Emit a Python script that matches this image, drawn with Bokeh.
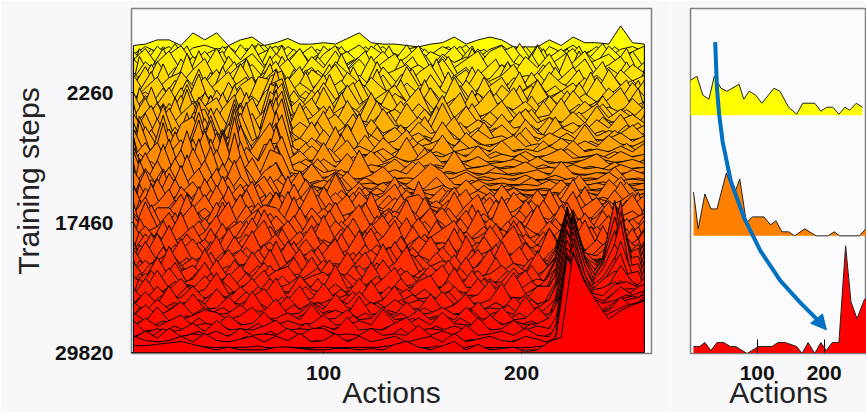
from bokeh.plotting import figure
from bokeh.layouts import row
from bokeh.models import FixedTicker
from bokeh.embed import file_html
from bokeh.resources import INLINE

actions = list(range(4, 266, 6))
actions_between = [4] + list(range(7, 262, 6)) + [262]
tick_layers = [50, 25, 0]
tick_labels = ["2260", "17460", "29820"]
action_ticks = [100, 200]

# ridge heights, from the top (oldest) layer to the bottom (newest) layer
layers = [
[15,16,19,19,15,24,19,24,15,19,21,15,17,20,16,16,17,16,20,24,17,16,16,15,14,16,17,21,16,19,21,19,14,14,14,19,15,21,17,17,16,29,17,16],
[12,18,14,18,10,17,19,16,18,12,18,19,10,18,12,18,8,18,14,19,12,18,10,16,18,12,18,14,19,10,16,19,12,18,8,18,14,19,12,18,10,16,18,14],
[18,10,22,14,22,12,16,20,10,23,14,18,22,12,20,8,22,14,18,10,22,16,12,23,10,18,14,22,12,20,10,18,22,10,23,14,20,12,18,10,22,14,18,22],
[16,24,12,20,26,14,22,12,26,16,27,12,18,14,24,10,20,26,12,18,14,22,12,18,26,10,20,14,18,12,22,26,14,10,26,12,18,24,12,16,20,12,22,10],
[20,12,18,26,12,22,14,28,12,18,24,14,24,16,10,22,14,26,12,20,10,18,24,12,16,10,22,14,20,26,12,16,10,22,14,24,10,18,26,12,16,22,10,18],
[10,22,14,8,24,12,18,10,26,14,20,10,16,24,12,18,8,22,14,10,26,12,16,20,10,14,24,12,18,8,10,20,10,12,12,22,8,16,24,10,18,12,20,14],
[18,8,26,14,10,20,28,12,16,24,10,18,26,12,8,20,14,24,10,16,8,22,12,8,18,24,10,14,20,8,12,16,24,10,18,8,14,22,10,16,8,20,12,16],
[12,26,10,18,22,8,14,24,10,28,14,8,22,16,26,10,18,8,22,14,10,20,8,26,12,16,8,20,10,24,14,8,18,12,8,22,14,10,18,8,24,12,16,8],
[24,10,16,8,26,16,10,18,26,12,8,20,28,10,18,12,24,8,16,10,22,14,8,18,10,24,12,8,20,10,16,22,8,14,20,8,12,18,8,22,10,14,8,20],
[10,18,26,12,8,16,26,14,10,20,26,8,18,26,12,8,22,10,16,24,8,14,20,8,12,18,8,26,10,14,8,20,12,8,24,10,16,8,14,8,18,10,22,12],
[14,19,12,8,22,10,18,8,26,12,16,8,30,14,8,20,12,8,24,10,16,8,18,12,8,22,8,14,10,18,8,12,22,8,10,16,8,20,10,8,14,22,8,12],
[8,20,14,26,10,16,8,24,12,26,8,14,39,10,18,8,26,10,14,8,20,12,8,16,26,8,12,18,8,14,24,8,10,16,8,20,10,8,16,8,12,8,18,10],
[26,8,18,10,24,8,26,12,8,18,10,26,33,8,14,22,8,12,18,8,26,10,14,8,18,10,24,8,16,8,12,20,8,14,8,10,22,8,12,18,8,14,8,16],
[12,26,8,22,12,8,20,26,10,16,26,8,36,16,8,12,20,8,24,10,8,16,8,22,10,8,14,8,20,8,16,8,10,18,8,12,8,16,8,20,8,10,14,8],
[8,14,26,8,18,26,10,14,8,26,12,20,29,8,26,8,12,18,8,14,8,22,10,8,16,8,26,10,8,14,8,18,8,10,6,16,8,12,6,14,8,18,6,10],
[22,8,14,26,10,16,8,26,12,28,8,14,39,8,16,10,24,8,14,6,18,8,12,6,16,8,10,20,6,12,8,14,6,18,8,6,12,8,16,6,10,8,14,6],
[10,26,8,14,6,26,29,10,8,18,26,8,26,14,8,20,6,12,8,26,6,10,16,8,12,6,20,8,6,14,8,10,6,16,6,12,8,6,18,6,8,12,6,10],
[16,8,26,8,20,10,26,8,14,30,10,16,41,8,12,6,18,8,22,6,14,8,10,18,6,8,12,6,16,8,6,10,14,6,8,6,12,6,10,6,14,8,6,10],
[8,24,10,6,26,31,12,8,26,14,8,22,33,12,6,16,8,24,6,10,6,16,8,6,12,6,18,6,8,10,6,14,6,8,6,10,6,14,6,8,6,10,6,12],
[26,8,16,26,8,14,26,25,8,28,12,8,39,10,6,14,6,10,18,6,8,12,6,20,6,8,6,10,6,14,5,8,6,10,5,8,12,5,6,8,5,10,6,8],
[10,20,6,12,22,6,28,12,24,10,6,21,34,8,14,6,20,6,8,6,14,6,10,6,8,14,5,8,6,10,5,6,8,5,10,5,6,5,8,12,5,6,8,5],
[6,14,24,6,10,26,8,31,6,36,14,8,36,6,10,5,12,6,16,5,8,6,12,5,6,8,5,18,5,6,8,5,6,10,5,6,5,8,5,6,4,8,5,6],
[24,6,10,30,6,16,36,10,23,14,6,26,27,6,5,12,6,8,5,22,6,5,8,5,14,5,6,5,8,4,6,5,4,6,8,4,14,5,4,6,5,4,8,5],
[8,24,6,12,26,6,10,26,8,32,10,6,29,8,5,16,5,10,6,5,8,14,5,6,5,8,4,6,10,5,4,6,4,8,4,5,4,6,4,5,10,4,5,4],
[29,6,22,6,10,31,14,6,24,12,24,8,21,5,12,5,8,5,14,5,6,4,8,5,12,20,14,5,4,8,4,6,4,5,4,8,4,5,4,6,4,5,4,6],
[6,20,8,21,6,12,26,8,16,29,6,18,24,6,4,8,5,18,4,8,5,10,4,6,4,5,8,4,12,4,5,4,6,4,5,4,12,4,5,4,6,14,4,5],
[23,8,14,6,26,6,10,24,6,18,8,6,16,10,22,6,10,4,6,14,4,6,18,4,8,5,4,6,4,8,4,5,10,4,5,4,6,4,8,4,16,8,4,6],
[8,26,6,24,10,18,6,12,21,6,14,22,8,14,6,16,6,24,8,5,10,6,4,12,4,6,14,4,6,5,4,16,5,4,8,4,6,20,4,6,4,18,6,4],
[18,6,24,8,14,6,24,8,10,20,6,12,6,26,6,10,6,14,6,18,6,12,20,6,10,4,8,18,5,8,14,5,6,4,16,5,8,4,12,6,5,8,14,6],
[6,21,10,6,22,12,6,23,8,14,26,6,18,8,14,6,22,8,6,18,10,6,14,6,26,8,6,12,20,6,8,4,18,8,6,12,5,8,22,6,12,5,8,16],
[26,8,14,24,6,10,20,6,26,8,12,6,22,6,10,26,6,12,20,6,12,8,6,18,20,10,6,22,6,10,18,6,8,14,6,24,8,6,12,18,6,10,20,6],
[10,22,6,12,24,8,14,6,10,24,6,16,8,26,8,6,14,6,10,6,26,6,12,8,6,14,8,6,16,24,6,12,6,20,8,6,14,26,8,6,16,8,12,6],
[14,6,18,18,8,12,6,22,8,6,14,20,18,8,6,18,8,22,6,12,6,14,8,24,6,10,18,6,8,12,6,26,10,6,14,6,20,8,6,12,22,6,10,14],
[6,26,8,6,14,24,8,14,26,6,10,6,16,6,22,6,10,6,14,24,8,6,16,6,12,22,6,10,20,6,14,6,16,8,24,6,10,6,18,6,10,6,14,6],
[20,8,12,22,6,8,18,6,10,16,6,24,8,12,6,20,6,16,8,6,12,20,6,8,18,6,12,6,8,24,6,10,6,12,6,16,8,24,6,10,20,6,8,16],
[8,16,6,10,26,6,12,24,6,8,22,6,10,20,8,6,24,6,12,6,18,6,10,22,6,8,14,20,6,8,14,6,20,6,10,6,14,6,8,16,6,12,6,10],
[22,6,14,6,12,20,6,8,16,6,14,24,6,8,16,6,10,6,20,8,6,12,24,6,12,6,8,6,16,6,20,8,6,14,6,18,6,10,24,6,8,14,6,18],
[6,18,8,24,6,8,14,6,22,8,6,10,18,6,12,24,6,14,6,10,22,6,8,6,16,10,6,22,6,12,6,14,24,6,10,6,8,20,6,14,6,10,22,6],
[12,6,22,6,10,18,6,16,6,10,24,6,8,14,6,8,16,6,10,24,6,8,14,6,8,20,6,8,14,6,10,6,8,16,6,26,10,22,8,6,14,22,12,24],
[5,20,6,8,22,6,10,24,6,14,6,18,6,20,8,6,12,22,6,8,14,6,20,6,10,6,16,6,24,8,6,12,6,19,8,6,12,32,10,6,10,28,18,14],
[18,6,10,16,6,12,6,8,18,6,10,6,24,6,10,18,6,8,6,16,6,22,6,8,14,6,10,6,8,18,6,24,8,6,14,6,16,39,14,8,14,37,10,22],
[6,14,6,24,8,6,22,6,10,6,20,8,6,12,22,6,14,6,20,6,10,6,12,24,6,8,6,18,6,10,22,6,12,6,20,8,18,43,20,12,20,44,18,14],
[16,5,20,6,10,14,6,18,5,12,6,16,6,6,8,20,6,10,6,14,6,18,6,8,5,14,6,8,20,6,8,14,6,10,5,14,24,49,20,14,24,50,14,24],
[5,12,6,16,5,8,20,6,10,18,5,8,14,17,6,10,13,6,12,5,20,6,8,14,5,10,18,5,8,14,5,6,16,5,8,6,21,56,24,13,18,57,21,16],
[14,5,18,5,10,5,14,5,16,6,10,18,5,8,14,5,6,22,5,8,5,12,20,5,8,5,6,20,6,5,12,5,10,18,5,14,24,59,27,11,24,68,14,21],
[4,16,5,8,16,5,8,20,5,8,16,5,10,5,18,8,5,12,5,16,6,5,10,5,14,18,5,8,5,16,5,8,20,5,10,5,26,61,30,16,21,64,24,18],
[12,4,14,5,6,14,5,10,5,14,5,8,20,5,6,5,16,5,8,5,18,5,6,12,5,6,5,14,5,8,18,5,6,5,14,14,29,63,33,14,29,61,16,24],
[4,14,5,18,5,8,5,16,6,5,10,16,5,8,18,5,6,10,5,14,5,8,18,5,8,5,14,5,6,5,8,20,5,12,5,8,27,64,31,17,24,50,26,20],
[10,4,12,5,6,16,5,6,14,5,18,5,6,14,5,10,5,16,6,5,10,5,12,6,5,16,5,8,16,5,6,5,14,5,6,12,30,64,36,16,31,45,20,27],
[4,12,4,8,14,5,10,5,6,12,5,8,16,5,6,14,5,8,5,18,5,6,5,14,5,6,10,5,5,14,5,8,5,18,6,5,26,64,33,19,26,40,28,24],
[10,4,14,4,5,8,12,10,5,8,14,5,6,10,5,16,5,6,12,5,6,14,5,6,12,5,8,5,14,6,5,14,5,6,14,5,24,63,37,17,24,33,26,30],
[3,10,4,8,12,4,6,5,12,5,6,14,5,8,5,6,12,5,5,8,5,16,6,5,10,5,14,6,5,5,12,5,8,5,6,10,27,63,34,20,22,30,31,28],
[12,3,6,4,5,10,4,12,5,6,5,8,12,5,6,5,8,5,14,5,6,5,10,14,5,6,5,8,5,14,5,6,12,5,8,6,21,61,39,20,28,36,30,33],
[3,8,3,10,4,6,5,8,4,10,5,6,5,10,5,10,10,5,6,5,10,5,6,5,12,5,8,5,12,5,6,8,5,10,5,4,19,59,36,21,26,31,33,30],
[8,5,4,5,8,4,10,5,4,6,8,4,8,5,10,4,5,10,4,8,4,6,8,4,6,8,4,10,4,6,8,5,4,8,6,3,13,61,40,26,26,36,29,36],
[5,5,6,7,8,6,4,2,4,2,2,2,4,4,3,2,2,3,3,2,3,2,6,8,4,2,5,8,2,6,2,3,4,1,2,8,11,71,50,36,24,30,34,37],
]

# ridges that lie half a layer below each row above, from the top down
layers_between = [
[10,14,8,16,9,12,16,10,14,8,15,9,13,17,8,11,14,9,12,8,16,10,13,9,15,8,12,16,9,11,14,8,13,16,9,12,8,15,10,13,8,16,9,12,10],
[12,8,18,10,22,8,14,9,20,11,8,22,12,9,18,8,14,10,20,8,12,22,9,14,8,18,10,13,20,8,11,18,8,22,10,14,9,18,8,13,22,9,12,18,8],
[8,22,10,6,14,24,8,12,7,18,10,6,24,12,8,16,6,22,9,14,6,10,24,8,12,18,6,10,14,24,7,12,6,18,9,22,6,14,24,8,10,6,20,12,8],
[20,6,12,26,8,10,6,18,24,7,12,6,14,28,8,6,20,10,6,16,24,8,6,12,20,6,14,6,8,26,10,6,16,7,22,8,12,6,24,9,6,14,26,8,6],
[6,24,8,6,16,7,28,10,6,12,22,8,6,24,10,6,14,7,26,8,6,16,6,22,9,6,12,24,8,6,14,22,6,10,7,18,6,26,8,6,12,7,20,6,14],
[14,6,22,8,6,30,8,6,14,24,6,10,28,7,6,18,8,22,6,12,6,24,8,6,16,7,26,6,10,18,6,8,24,6,12,6,20,7,6,14,24,6,10,6,18],
[5,18,6,26,7,12,6,20,8,6,30,8,16,6,22,8,6,12,6,24,7,10,6,18,22,6,8,14,6,24,7,6,12,6,20,8,6,12,22,6,8,16,6,8,6],
[22,6,10,6,18,7,26,6,28,10,6,14,30,6,8,24,6,12,18,6,8,26,6,10,6,14,7,24,6,8,16,6,10,24,6,8,14,6,8,24,6,10,6,18,7],
[6,14,28,7,6,22,6,10,6,18,24,6,22,8,6,14,6,26,7,6,18,6,8,22,6,12,6,8,18,6,24,8,6,12,18,6,10,6,20,7,6,14,22,6,10],
[16,6,8,20,6,10,30,6,14,6,8,28,26,6,18,6,8,6,16,24,6,10,6,14,6,26,8,6,10,6,8,16,6,22,6,10,6,18,6,8,12,6,8,20,6],
[6,24,6,12,6,26,7,18,6,26,6,12,32,36,6,10,22,6,8,6,14,6,22,6,8,16,6,12,6,22,6,6,10,6,18,6,8,6,12,6,18,6,10,6,14],
[20,6,28,6,8,6,14,6,24,6,12,6,30,34,8,6,14,6,24,6,10,6,8,18,6,10,6,14,24,6,8,6,14,6,6,18,6,10,6,8,16,6,12,6,8],
[6,12,6,20,6,30,6,26,6,8,28,6,34,30,6,18,6,8,6,14,6,22,6,8,6,16,6,8,6,20,6,10,6,8,16,5,8,6,14,5,10,6,8,5,12],
[24,6,8,6,28,6,10,6,20,30,6,10,28,38,6,8,6,22,6,10,5,8,18,5,8,6,22,5,8,6,12,5,8,18,5,6,12,5,8,5,14,6,5,10,5],
[6,16,26,6,10,6,32,20,6,8,14,6,36,28,8,6,14,5,8,20,5,8,5,12,5,18,5,6,14,5,6,10,5,6,12,5,18,5,6,5,8,5,12,5,6],
[18,6,8,30,6,14,6,28,8,34,6,10,26,40,6,5,18,5,8,5,12,5,6,16,5,8,5,12,5,6,18,5,6,4,8,5,5,10,4,6,5,12,5,6,4],
[5,26,6,6,18,6,36,6,8,12,36,6,38,24,10,5,8,5,14,5,6,18,5,6,5,10,5,6,4,10,5,6,4,14,5,4,6,5,4,8,4,6,5,4,8],
[12,6,20,6,8,32,6,30,6,38,10,6,24,42,6,5,12,5,6,5,16,5,8,5,14,5,6,4,12,5,4,6,4,6,4,12,4,5,4,6,4,5,10,4,5],
[6,30,6,34,6,10,36,8,24,6,8,18,44,20,6,14,5,6,20,5,6,5,5,10,4,5,8,4,5,6,4,8,4,5,4,5,4,10,4,5,4,8,4,5,4],
[22,6,10,6,26,6,12,34,6,42,6,8,22,38,8,5,6,14,5,6,4,12,4,6,4,14,4,5,4,6,4,5,4,10,4,5,4,4,5,4,6,4,5,4,6],
[5,14,6,36,6,14,38,6,30,8,12,24,36,16,5,10,5,6,4,12,4,5,8,4,5,4,6,4,8,4,5,3,5,4,3,6,3,4,3,5,3,8,3,4,3],
[30,5,12,5,8,34,6,28,6,44,6,6,18,30,6,4,14,4,5,4,6,4,4,5,12,4,3,5,3,4,3,8,3,4,3,4,3,5,3,3,4,3,4,3,5],
[5,18,5,28,5,6,32,6,36,10,26,16,32,12,4,8,4,5,10,3,4,5,3,4,3,5,10,3,4,3,5,3,3,4,3,3,6,3,3,4,3,12,3,4,3],
[20,5,8,5,22,6,10,30,5,40,5,8,28,24,5,3,6,3,4,3,8,3,5,3,4,3,4,3,3,6,3,4,3,3,8,3,3,4,3,3,5,3,3,4,3],
[5,24,5,18,5,28,6,5,22,6,18,5,20,8,14,3,5,3,12,3,4,3,3,8,3,4,12,3,5,3,3,3,6,3,3,4,3,3,14,3,4,3,6,3,3],
[26,5,14,5,6,12,22,5,8,28,5,12,6,18,3,5,3,14,3,5,3,8,3,3,5,3,3,5,3,3,10,3,3,4,3,3,5,3,3,4,3,3,12,3,4],
[5,16,5,24,5,8,5,20,5,6,14,5,20,5,4,18,4,5,3,5,12,3,4,14,3,5,3,3,6,3,3,4,3,8,3,3,4,14,3,3,5,3,3,6,3],
[18,5,6,5,22,5,14,5,24,5,8,18,5,12,5,4,10,4,14,4,5,3,6,3,5,8,3,14,3,4,3,6,3,3,10,3,3,4,3,5,3,14,4,3,5],
[5,22,5,12,5,16,5,18,5,12,5,6,16,5,22,5,6,4,6,16,3,5,14,3,3,5,10,3,4,10,3,5,12,3,4,3,16,3,5,3,8,3,4,16,3],
[12,5,26,5,10,5,24,5,8,5,22,5,8,18,5,6,18,5,4,5,12,4,5,18,5,4,6,14,4,5,16,4,5,3,14,4,5,4,18,4,5,4,14,4,6],
[5,18,5,8,18,5,6,5,20,6,5,16,5,6,14,5,5,16,5,10,4,6,12,5,4,20,5,4,6,5,4,18,4,6,4,18,5,4,6,5,14,4,5,4,12],
[20,5,6,14,5,26,5,12,5,5,18,5,6,5,24,5,10,5,6,4,20,5,6,4,14,5,4,16,5,6,12,4,5,14,5,4,6,20,4,6,4,18,5,6,4],
[5,10,22,5,6,5,16,5,24,5,8,5,16,5,6,14,5,18,4,12,5,4,18,5,6,4,12,5,4,22,5,6,4,6,18,5,4,6,12,4,18,5,4,8,14],
[16,5,6,5,20,5,8,5,6,14,5,22,5,6,18,5,5,6,14,5,4,18,5,6,4,14,5,4,16,5,6,4,14,5,6,4,16,5,4,10,5,4,16,5,5],
[5,20,5,14,5,8,18,5,10,5,18,5,6,14,5,4,16,5,6,20,5,4,6,14,5,4,18,5,4,6,14,5,4,18,4,6,5,4,20,5,6,4,5,14,4],
[12,5,6,22,5,14,5,6,20,5,6,5,18,5,8,14,5,5,16,5,6,14,5,4,18,5,6,5,12,4,5,20,5,5,4,14,5,6,4,18,4,5,16,4,6],
[5,18,5,6,5,16,5,20,5,6,16,5,4,20,5,5,14,5,6,4,18,5,6,5,4,16,5,5,20,5,6,4,6,16,5,6,12,5,6,4,22,5,5,8,14],
[14,5,20,5,10,4,14,5,4,18,5,8,14,4,5,16,5,4,20,5,4,12,5,18,5,4,6,14,4,5,18,5,4,6,5,10,14,14,5,4,12,18,5,4,18],
[4,16,4,6,16,5,4,18,5,4,14,5,6,5,18,4,5,12,4,5,16,4,6,4,14,4,5,20,5,5,4,16,5,5,14,5,14,36,8,5,6,24,14,20,8],
[14,4,5,18,4,10,4,5,14,4,6,16,4,5,10,4,18,4,6,14,4,5,18,4,5,4,14,5,4,16,5,4,10,18,4,5,16,44,14,6,10,36,8,14,22],
[4,12,4,5,14,4,4,18,4,6,4,5,20,4,5,14,4,5,4,8,18,4,5,4,16,5,4,6,4,5,14,4,5,4,14,5,18,50,20,8,14,46,16,24,10],
[16,4,14,4,4,10,4,5,4,16,4,12,4,5,18,4,5,16,4,5,4,14,4,5,4,10,4,16,4,6,4,18,4,5,4,8,18,54,18,10,18,56,14,12,26],
[4,10,4,6,18,4,12,4,5,10,4,5,16,4,4,8,14,4,5,16,4,4,6,14,4,5,4,5,14,4,5,4,12,4,16,4,20,56,28,10,20,62,24,28,12],
[12,4,16,4,4,6,4,14,4,5,14,4,4,12,4,5,4,5,14,4,5,12,4,4,6,14,4,5,4,16,4,5,4,14,4,6,22,58,24,12,24,66,18,14,28],
[3,14,4,5,12,3,4,4,12,4,5,4,14,4,5,3,14,4,4,6,10,4,4,14,4,4,5,12,4,4,14,3,4,6,12,4,20,60,32,12,26,58,28,30,16],
[10,3,4,4,3,12,4,4,3,8,3,12,4,3,5,12,3,4,10,3,4,4,12,3,4,10,3,4,4,6,3,12,3,4,3,6,20,60,30,16,28,52,20,18,30],
[3,8,3,10,3,4,3,10,3,4,12,3,4,3,10,3,4,3,4,12,3,4,3,5,10,3,4,12,3,4,3,4,10,3,4,3,18,62,36,18,28,46,30,32,18],
[10,3,3,4,8,3,10,3,4,3,3,8,3,12,3,4,8,3,4,3,4,8,3,10,3,4,3,4,10,3,3,8,3,4,10,3,16,60,34,20,26,40,26,22,32],
[2,8,3,3,10,3,3,4,8,3,6,3,3,4,10,3,3,6,3,8,3,3,6,3,3,8,3,3,4,8,3,3,10,3,3,6,14,62,40,20,28,34,32,34,22],
[8,2,4,3,2,6,3,10,2,3,3,10,2,3,3,8,3,2,3,3,8,2,3,8,2,3,6,2,3,10,2,3,3,8,2,3,12,60,38,24,26,30,26,28,34],
[2,6,2,6,3,2,8,2,3,6,2,3,8,2,3,2,6,3,2,10,2,3,2,3,8,2,3,2,8,3,2,6,2,3,6,2,10,58,44,26,24,32,34,30,28],
[6,2,3,2,6,2,2,3,6,2,3,8,2,3,2,8,2,3,6,2,3,2,6,2,3,2,6,2,3,2,6,2,3,2,8,2,8,58,42,28,24,30,28,34,36],
[2,4,2,8,2,3,6,2,2,4,2,2,6,2,4,2,2,6,2,2,4,2,2,8,2,2,4,2,6,2,2,4,2,2,3,2,6,60,46,30,26,28,32,30,34],
[4,2,2,2,4,2,2,4,2,2,6,2,2,2,4,2,3,2,2,4,2,2,5,2,2,4,2,2,2,4,2,2,2,4,2,1,5,62,48,32,24,28,32,34,36],
[3,3,3,2,3,4,3,2,2,2,2,3,1,2,2,1,2,2,1,2,2,2,3,4,2,1,3,2,1,3,1,2,1,2,2,3,5,66,50,34,24,28,32,34,36],
]

early_actions = [0.5,10,19,28,36,46,55,73,80,88,98,107,125,134,147,159,168,186,195,204,213,222,231,238,248,257]
early_values = [35,39,20,16,39,27,24,31,16,24,20,12,27,24,8,1,12,12,4,8,8,1,8,5,12,8]
middle_actions = [5,12,22,31,40,54,66,74,84,93,110,120,128,137,147,156,171,188,206,215,223,253,262]
middle_values = [44,7,42,27,27,63,42,57,13,19,19,11,15,4,4,0,7,0,0,4,0,0,7]
late_actions = [5,14,22,31,40,50,60,68,85,102,122,131,142,159,167,176,186,195,203,212,222,232,240,249,260,270]
late_values = [7,7,11,3,11,11,7,7,0,7,7,11,11,7,0,11,0,11,3,11,11,108,52,35,54,60]

arrow_x = [37.4,40,43.3,48.3,60.6,80.3,104.9,134.5,164,188.7]
arrow_y = [316.3,270,243.7,217,177,140.3,107,77,55.3,38.7]
head_x = [203.4,179.8,197.5]
head_y = [27.7,34.3,43.7]

PAGE_BG = "#f8f8fb"
FONT = "Liberation Sans"
LAYER_PX = 5.2
RIDGE_GAIN = 1.4


def style(fig, tick_in):
    fig.grid.visible = False
    fig.outline_line_color = "#7f7f7f"
    fig.outline_line_width = 1.5
    fig.background_fill_color = "#fbfbfd"
    fig.border_fill_color = PAGE_BG
    ax = fig.xaxis[0]
    ax.ticker = FixedTicker(ticks=action_ticks)
    ax.axis_label = "Actions"
    ax.axis_label_text_font = FONT
    ax.axis_label_text_font_size = "30px"
    ax.axis_label_text_font_style = "normal"
    ax.axis_label_text_color = "#222222"
    ax.axis_label_standoff = -7
    ax.major_label_text_font = FONT
    ax.major_label_text_font_size = "21px"
    ax.major_label_text_font_style = "bold"
    ax.major_label_text_color = "#111111"
    ax.major_label_standoff = 12
    ax.major_tick_in = tick_in
    ax.major_tick_out = 0
    ax.minor_tick_line_color = None
    ax.axis_line_color = "#7f7f7f"


p1 = figure(width=670, height=412, output_backend="svg", toolbar_location=None,
            x_range=(3, 265.6), y_range=(-0.15, 66.15),
            min_border_left=131, min_border_right=19, min_border_top=8, min_border_bottom=59)
style(p1, 3)

entries = []
top = len(layers) - 1
for pos, heights in enumerate(layers):
    entries.append((top - pos, actions, heights))
for pos, heights in enumerate(layers_between):
    entries.append((top - pos - 0.5, actions_between, heights))
entries.sort(key=lambda e: -e[0])

xs, ys, colors = [], [], []
for idx, grid, heights in entries:
    xs.append([grid[0]] + grid[:len(heights)] + [grid[len(heights) - 1]])
    ys.append([idx] + [idx + RIDGE_GAIN * h / LAYER_PX for h in heights] + [idx])
    colors.append("#ff%02x00" % round(255 * (idx / top) ** 1.25))
p1.patches(xs, ys, fill_color=colors, line_color="#000000", line_width=1, line_alpha=0.95)

ay = p1.yaxis[0]
ay.ticker = FixedTicker(ticks=tick_layers)
ay.major_label_overrides = dict(zip(tick_layers, tick_labels))
ay.axis_label = "Training steps"
ay.axis_label_text_font = FONT
ay.axis_label_text_font_size = "30px"
ay.axis_label_text_font_style = "normal"
ay.axis_label_text_color = "#222222"
ay.axis_label_standoff = 7
ay.major_label_text_font = FONT
ay.major_label_text_font_size = "21px"
ay.major_label_text_font_style = "bold"
ay.major_label_text_color = "#111111"
ay.major_label_standoff = 18
ay.major_tick_in = 2
ay.major_tick_out = 0
ay.minor_tick_line_color = None
ay.axis_line_color = "#7f7f7f"

p2 = figure(width=196, height=412, output_backend="svg", toolbar_location=None,
            x_range=(0.5, 263.2), y_range=(4, 350),
            min_border_left=20, min_border_right=0, min_border_top=7, min_border_bottom=59)
style(p2, 14)
p2.yaxis.visible = False

for a, v, base, c in [(early_actions, early_values, 243, "#ffff00"),
                      (middle_actions, middle_values, 122, "#ff8000"),
                      (late_actions, late_values, 4, "#ff0000")]:
    px = [a[0]] + a + [a[-1]]
    py = [base] + [base + h for h in v] + [base]
    p2.patch(px, py, fill_color=c, line_color=None)
    p2.line(a, [base + h for h in v], line_color="#222222", line_width=1)
p2.line(arrow_x, arrow_y, line_color="#0070c0", line_width=4)
p2.patch(head_x, head_y, fill_color="#0070c0", line_color="#0070c0")

layout = row(p1, p2)
open("out.html", "w").write(file_html(layout, INLINE))
